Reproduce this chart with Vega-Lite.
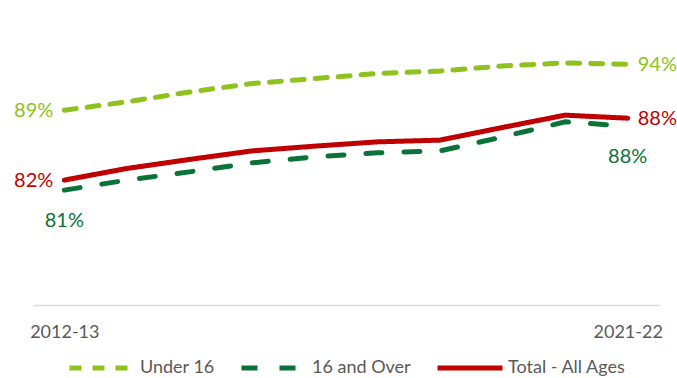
{
  "$schema": "https://vega.github.io/schema/vega-lite/v6.json",
  "width": 626,
  "height": 301,
  "autosize": "none",
  "padding": {"left": 33, "top": 4, "right": 18, "bottom": 73},
  "background": "white",
  "config": {"view": {"stroke": null}, "font": "Lato"},
  "data": {
    "values": [
      {"year": "2012-13", "series": "Under 16", "value": 89.06, "label": "89%"},
      {"year": "2013-14", "series": "Under 16", "value": 89.92, "label": ""},
      {"year": "2014-15", "series": "Under 16", "value": 90.94, "label": ""},
      {"year": "2015-16", "series": "Under 16", "value": 91.81, "label": ""},
      {"year": "2016-17", "series": "Under 16", "value": 92.32, "label": ""},
      {"year": "2017-18", "series": "Under 16", "value": 92.84, "label": ""},
      {"year": "2018-19", "series": "Under 16", "value": 93.1, "label": ""},
      {"year": "2019-20", "series": "Under 16", "value": 93.62, "label": ""},
      {"year": "2020-21", "series": "Under 16", "value": 93.93, "label": ""},
      {"year": "2021-22", "series": "Under 16", "value": 93.79, "label": "94%"},
      {"year": "2012-13", "series": "16 and Over", "value": 80.83, "label": "81%"},
      {"year": "2013-14", "series": "16 and Over", "value": 81.86, "label": ""},
      {"year": "2014-15", "series": "16 and Over", "value": 82.71, "label": ""},
      {"year": "2015-16", "series": "16 and Over", "value": 83.64, "label": ""},
      {"year": "2016-17", "series": "16 and Over", "value": 84.26, "label": ""},
      {"year": "2017-18", "series": "16 and Over", "value": 84.67, "label": ""},
      {"year": "2018-19", "series": "16 and Over", "value": 84.87, "label": ""},
      {"year": "2019-20", "series": "16 and Over", "value": 86.31, "label": ""},
      {"year": "2020-21", "series": "16 and Over", "value": 87.86, "label": ""},
      {"year": "2021-22", "series": "16 and Over", "value": 87.42, "label": "88%"},
      {"year": "2012-13", "series": "Total - All Ages", "value": 81.86, "label": "82%"},
      {"year": "2013-14", "series": "Total - All Ages", "value": 83.06, "label": ""},
      {"year": "2014-15", "series": "Total - All Ages", "value": 83.99, "label": ""},
      {"year": "2015-16", "series": "Total - All Ages", "value": 84.87, "label": ""},
      {"year": "2016-17", "series": "Total - All Ages", "value": 85.36, "label": ""},
      {"year": "2017-18", "series": "Total - All Ages", "value": 85.8, "label": ""},
      {"year": "2018-19", "series": "Total - All Ages", "value": 85.98, "label": ""},
      {"year": "2019-20", "series": "Total - All Ages", "value": 87.28, "label": ""},
      {"year": "2020-21", "series": "Total - All Ages", "value": 88.55, "label": ""},
      {"year": "2021-22", "series": "Total - All Ages", "value": 88.24, "label": "88%"}
    ]
  },
  "encoding": {
    "x": {
      "field": "year",
      "type": "ordinal",
      "sort": null,
      "scale": {"type": "point", "padding": 0.5},
      "axis": {
        "title": null,
        "values": ["2012-13", "2021-22"],
        "ticks": false,
        "grid": false,
        "domainColor": "#d9d9d9",
        "domainWidth": 1.5,
        "labelColor": "#595959",
        "labelFontSize": 18,
        "labelPadding": 18,
        "labelAngle": 0
      }
    },
    "y": {
      "field": "value",
      "type": "quantitative",
      "scale": {"domain": [69, 100], "nice": false, "zero": false},
      "axis": null
    },
    "color": {
      "field": "series",
      "type": "nominal",
      "scale": {
        "domain": ["Under 16", "16 and Over", "Total - All Ages"],
        "range": ["#8DC21F", "#0B7238", "#C00000"]
      },
      "legend": {
        "title": null,
        "orient": "none",
        "legendX": 34,
        "legendY": 329,
        "direction": "horizontal",
        "symbolType": "stroke",
        "symbolStrokeWidth": 5,
        "symbolSize": 4225,
        "labelFontSize": 18,
        "labelColor": "#595959",
        "labelOffset": 3,
        "columnPadding": 16
      }
    }
  },
  "layer": [
    {
      "mark": {"type": "line", "strokeWidth": 5, "strokeCap": "round"},
      "encoding": {
        "strokeDash": {
          "field": "series",
          "type": "nominal",
          "scale": {
            "domain": ["Under 16", "16 and Over", "Total - All Ages"],
            "range": [[12, 11], [16, 22], [1, 0]]
          },
          "legend": {
            "title": null,
            "orient": "none",
            "legendX": 34,
            "legendY": 329,
            "direction": "horizontal",
            "symbolType": "stroke",
            "symbolStrokeWidth": 5,
            "symbolSize": 4225,
            "labelFontSize": 18,
            "labelColor": "#595959",
            "labelOffset": 3,
            "columnPadding": 16
          }
        }
      }
    },
    {
      "transform": [{"filter": "datum.label != '' && datum.year == '2012-13' && datum.series != '16 and Over'"}],
      "mark": {"type": "text", "align": "right", "baseline": "middle", "dx": -11, "dy": 1, "fontSize": 20, "fontWeight": "normal"},
      "encoding": {"text": {"field": "label"}}
    },
    {
      "transform": [{"filter": "datum.label != '' && datum.series == '16 and Over'"}],
      "mark": {"type": "text", "align": "center", "baseline": "middle", "dy": 31, "fontSize": 20, "fontWeight": "normal"},
      "encoding": {"text": {"field": "label"}}
    },
    {
      "transform": [{"filter": "datum.label != '' && datum.year == '2021-22' && datum.series != '16 and Over'"}],
      "mark": {"type": "text", "align": "left", "baseline": "middle", "dx": 10, "dy": 1, "fontSize": 20, "fontWeight": "normal"},
      "encoding": {"text": {"field": "label"}}
    }
  ]
}
